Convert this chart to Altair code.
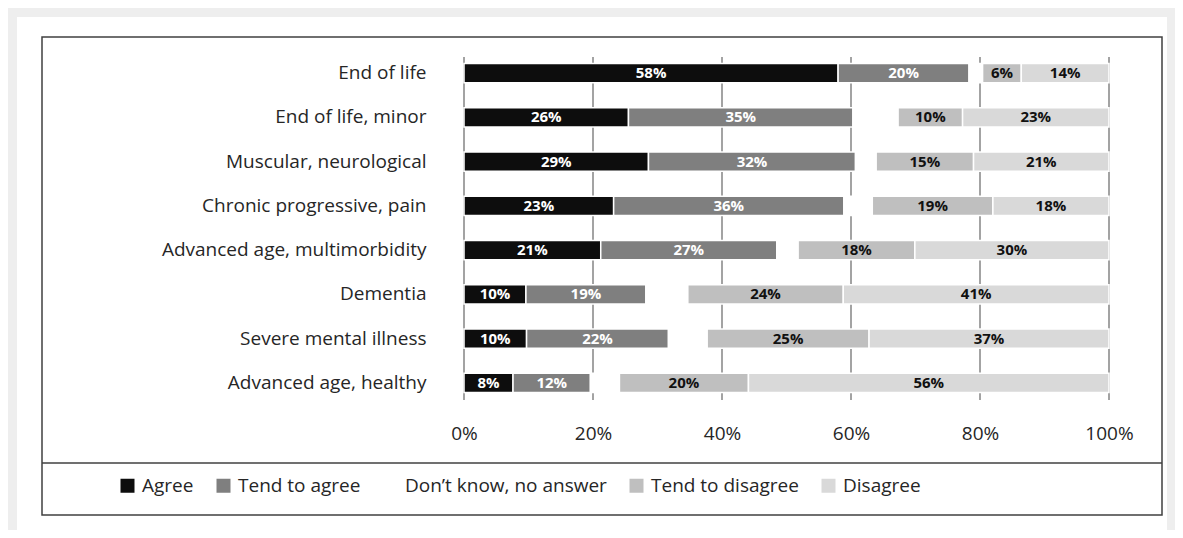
import altair as alt
import pandas as pd

categories = [
    "End of life",
    "End of life, minor",
    "Muscular, neurological",
    "Chronic progressive, pain",
    "Advanced age, multimorbidity",
    "Dementia",
    "Severe mental illness",
    "Advanced age, healthy",
]
responses = ["Agree", "Tend to agree", "Don\u2019t know, no answer", "Tend to disagree", "Disagree"]
agree = [58.0, 25.5, 28.6, 23.2, 21.2, 9.6, 9.7, 7.6]
tend_agree = [20.3, 34.8, 32.1, 35.7, 27.3, 18.6, 22.0, 12.0]
dont_know = [2.1, 7.0, 3.2, 4.4, 3.3, 6.5, 6.0, 4.5]
tend_disagree = [6.0, 10.0, 15.1, 18.7, 18.1, 24.1, 25.1, 20.0]
disagree = [13.6, 22.7, 21.0, 18.0, 30.1, 41.2, 37.2, 55.9]
colors = ["#0d0d0d", "#7f7f7f", "#ffffff", "#bfbfbf", "#d9d9d9"]
x_ticks = [0, 20, 40, 60, 80, 100]

series = [agree, tend_agree, dont_know, tend_disagree, disagree]
rows = []
for ci, cat in enumerate(categories):
    for ri, resp in enumerate(responses):
        v = series[ri][ci]
        rows.append({"cat": cat, "resp": resp, "order": ri, "value": v,
                     "label": f"{int(v + 0.5)}%"})
df = pd.DataFrame(rows)

FONT = "Open Sans"
FS = 19
W, H = 645, 354
xscale = alt.Scale(domain=[0, 100], nice=False)
xaxis = alt.Axis(values=x_ticks, labelExpr="datum.value + '%'", grid=False,
                 domain=False, ticks=False, labelPadding=19, labelFontSize=FS,
                 labelFont=FONT, labelColor="#262626", title=None, zindex=2,
                 labelFlush=False)
yenc = alt.Y(
    "cat:N", sort=categories,
    scale=alt.Scale(paddingInner=0.57, paddingOuter=0.285),
    axis=alt.Axis(title=None, domain=False, ticks=False, labelPadding=38,
                  labelFontSize=FS, labelFont=FONT, labelColor="#262626",
                  labelLimit=0, zindex=2),
)

one = pd.DataFrame({"p": [0]})
panel = alt.Chart(one).mark_rect(fill="white").encode(
    x=alt.value(-447), x2=alt.value(703), y=alt.value(-34), y2=alt.value(479)
)
box = alt.Chart(one).mark_rect(fillOpacity=0, stroke="#404040", strokeWidth=1.5).encode(
    x=alt.value(-422), x2=alt.value(698), y=alt.value(-14), y2=alt.value(464)
)
sep = alt.Chart(one).mark_rule(color="#404040", strokeWidth=1.5).encode(
    x=alt.value(-422), x2=alt.value(698), y=alt.value(412)
)
grid = alt.Chart(pd.DataFrame({"t": x_ticks})).mark_rule(color="#8c8c8c", strokeWidth=1.6).encode(
    x=alt.X("t:Q", scale=xscale, axis=xaxis), y=alt.value(6), y2=alt.value(349)
)

base = alt.Chart(df).transform_stack(
    stack="value", groupby=["cat"], sort=[alt.SortField("order")], as_=["x0", "x1"]
).transform_calculate(mid="(datum.x0 + datum.x1) / 2")

bars = base.mark_bar(stroke="white", strokeWidth=1.5).encode(
    x=alt.X("x0:Q", scale=xscale, axis=xaxis),
    x2="x1:Q",
    y=yenc,
    color=alt.Color("resp:N", scale=alt.Scale(domain=responses, range=colors),
                    legend=alt.Legend(orient="none", legendX=-346, legendY=425,
                                      direction="horizontal", title=None,
                                      symbolType="square", symbolSize=196,
                                      symbolStrokeWidth=0, labelFontSize=FS,
                                      labelFont=FONT, labelColor="#262626",
                                      labelOffset=5, columnPadding=20, labelLimit=0)),
)

text = base.transform_filter(alt.datum.order != 2).mark_text(
    font=FONT, fontWeight="bold", fontSize=15
).encode(
    x=alt.X("mid:Q", scale=xscale, axis=xaxis),
    y=yenc,
    text="label:N",
    color=alt.condition("datum.order < 2", alt.value("white"), alt.value("#111111")),
)

chart = alt.layer(panel, box, sep, grid, bars, text).properties(
    width=W, height=H,
    padding={"left": 456, "top": 43, "right": 66, "bottom": 125},
    autosize=alt.AutoSizeParams(type="none"),
    background="#eeeeee",
).configure_view(stroke=None)

chart.save("out.html", embed_options={"renderer": "svg", "actions": False})
